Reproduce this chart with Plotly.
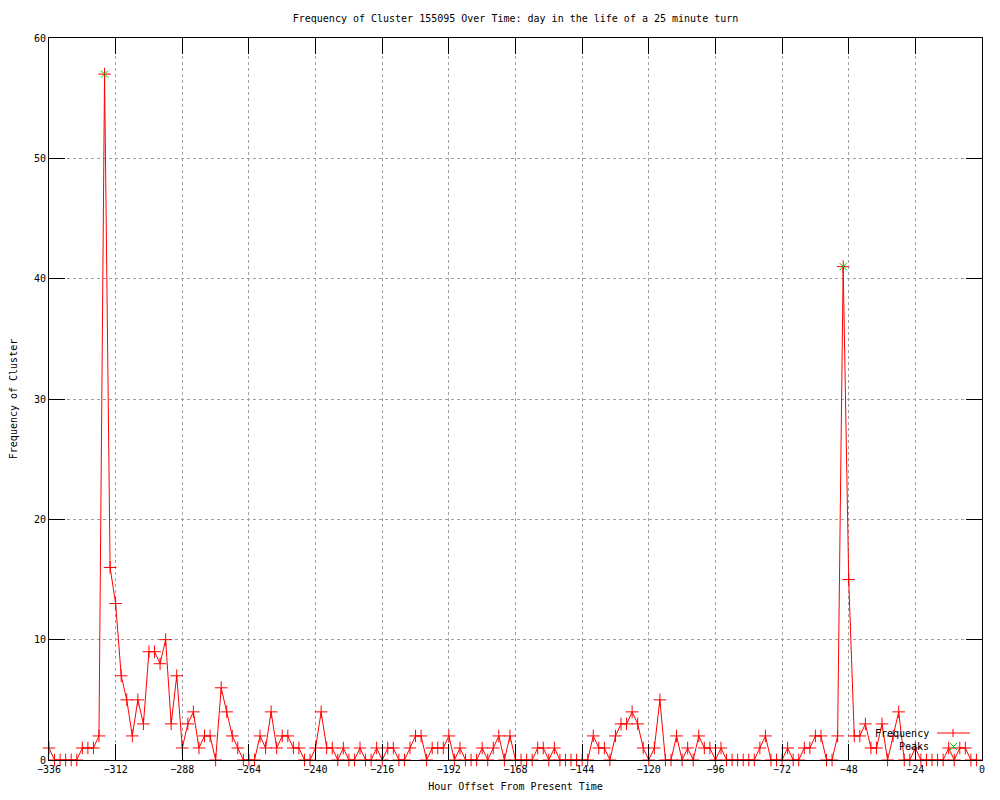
import plotly.graph_objects as go

hours = list(range(-336, 0, 2))
frequency = [
    1, 0, 0, 0, 0, 0, 1, 1, 1, 2,          # -336 .. -318
    57, 16, 13, 7, 5, 2, 5, 3, 9, 9,       # -316 .. -298
    8, 10, 3, 7, 1, 3, 4, 1, 2, 2,         # -296 .. -278
    0, 6, 4, 2, 1, 0, 0, 0, 2, 1,          # -276 .. -258
    4, 1, 2, 2, 1, 1, 0, 0, 1, 4,          # -256 .. -238
    1, 1, 0, 1, 0, 0, 1, 0, 0, 1,          # -236 .. -218
    0, 1, 1, 0, 0, 1, 2, 2, 0, 1,          # -216 .. -198
    1, 1, 2, 0, 1, 0, 0, 0, 1, 0,          # -196 .. -178
    1, 2, 0, 2, 0, 0, 0, 0, 1, 1,          # -176 .. -158
    0, 1, 0, 0, 0, 0, 0, 0, 2, 1,          # -156 .. -138
    1, 0, 2, 3, 3, 4, 3, 1, 0, 1,          # -136 .. -118
    5, 0, 0, 2, 0, 1, 0, 2, 1, 1,          # -116 .. -98
    0, 1, 0, 0, 0, 0, 0, 0, 1, 2,          # -96 .. -78
    0, 0, 0, 1, 0, 0, 1, 1, 2, 2,          # -76 .. -58
    0, 0, 2, 41, 15, 2, 2, 3, 1, 1,        # -56 .. -38
    3, 0, 2, 4, 0, 0, 1, 0, 0, 0,          # -36 .. -18
    0, 0, 1, 0, 1, 1, 0, 0,                # -16 .. -2
]
peak_hours = [-316, -50]
peak_values = [57, 41]

x_ticks = list(range(-336, 1, 24))
y_ticks = list(range(0, 61, 10))

title_text = "Frequency of Cluster 155095 Over Time: day in the life of a 25 minute turn"
x_title = "Hour Offset From Present Time"
y_title = "Frequency of Cluster"
legend_labels = ["Frequency", "Peaks"]

RED = "#ff0000"
GREEN = "#00c000"
FONT = dict(family="DejaVu Sans Mono", size=10, color="black")

L, R, T, B = 49, 18, 38, 40
W, H = 1000, 800
PW, PH = W - L - R, H - T - B


def px2paper(px, py):
    return (px - L) / PW, (H - B - py) / PH


fig = go.Figure()
fig.add_trace(go.Scatter(
    x=hours, y=frequency, mode="lines+markers", name=legend_labels[0],
    line=dict(color=RED, width=1),
    marker=dict(symbol="cross-thin", size=9, line=dict(color=RED, width=1), color=RED),
    cliponaxis=False, showlegend=False,
))
fig.add_trace(go.Scatter(
    x=peak_hours, y=peak_values, mode="markers", name=legend_labels[1],
    marker=dict(symbol="x-thin", size=7, line=dict(color=GREEN, width=1), color=GREEN),
    cliponaxis=False, showlegend=False,
))

axis_common = dict(
    showline=True, linecolor="black", linewidth=1, mirror="ticks",
    ticks="inside", ticklen=16, tickwidth=1, tickcolor="black",
    showgrid=True, gridcolor="#a0a0a0", gridwidth=1, griddash="3px,3px",
    zeroline=False, tickfont=FONT, automargin=False,
)

fig.update_xaxes(
    range=[-336, 0], tickmode="array", tickvals=x_ticks,
    title=dict(text=x_title, font=FONT, standoff=8),
    **axis_common,
)
fig.update_yaxes(
    range=[0, 60], tickmode="array", tickvals=y_ticks,
    title=dict(text=y_title, font=FONT, standoff=14),
    **axis_common,
)

annotations = []
shapes = []
# legend texts
for i, lab in enumerate(legend_labels):
    ty = 733 + 13 * i
    xp, yp = px2paper(931, ty)
    annotations.append(dict(text=lab, x=xp, y=yp, xref="paper", yref="paper",
                            xanchor="right", yanchor="middle", showarrow=False, font=FONT))
# Frequency sample line + plus marker
x0, y0 = px2paper(937, 733)
x1, _ = px2paper(970, 733)
shapes.append(dict(type="line", xref="paper", yref="paper", x0=x0, x1=x1, y0=y0, y1=y0,
                   line=dict(color=RED, width=1)))
_, b = px2paper(953, 729)
mx, d = px2paper(953, 737)
shapes.append(dict(type="line", xref="paper", yref="paper", x0=mx, x1=mx, y0=b, y1=d,
                   line=dict(color=RED, width=1)))
# Peaks sample x marker
a, b = px2paper(950, 743)
c, d = px2paper(957, 750)
shapes.append(dict(type="line", xref="paper", yref="paper", x0=a, x1=c, y0=b, y1=d,
                   line=dict(color=GREEN, width=1)))
shapes.append(dict(type="line", xref="paper", yref="paper", x0=a, x1=c, y0=d, y1=b,
                   line=dict(color=GREEN, width=1)))

fig.update_layout(
    width=W, height=H,
    margin=dict(l=L, r=R, t=T, b=B, pad=0, autoexpand=False),
    paper_bgcolor="white", plot_bgcolor="white",
    title=dict(text=title_text, font=FONT, x=(L + PW / 2) / W, xanchor="center",
               y=1 - 18 / H, yanchor="middle"),
    font=FONT,
    annotations=annotations,
    shapes=shapes,
    showlegend=False,
    hovermode=False,
)

fig.write_html("out.html",
               config={"displayModeBar": False, "staticPlot": True},
               post_script="document.body.style.margin='0';document.body.style.overflow='hidden';")
